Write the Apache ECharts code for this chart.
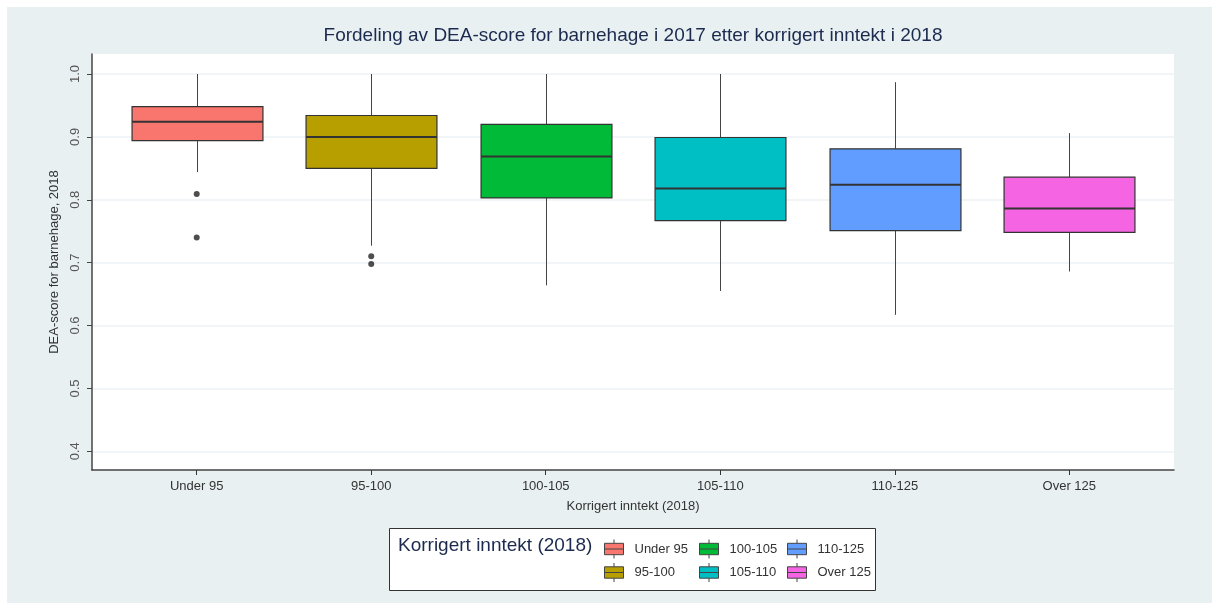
<!DOCTYPE html>
<html>
<head>
<meta charset="utf-8">
<script src="https://cdn.jsdelivr.net/npm/echarts@6/dist/echarts.min.js"></script>
<style>
  html, body { margin: 0; padding: 0; background: #fff; }
  #chart { width: 1212px; height: 603px; }
</style>
</head>
<body>
<div id="chart"></div>
<script>
const categories = ["Under 95", "95-100", "100-105", "105-110", "110-125", "Over 125"];
const lowerWhisker = [0.844, 0.727, 0.664, 0.655, 0.617, 0.686];
const q1 = [0.894, 0.850, 0.803, 0.767, 0.751, 0.748];
const median = [0.924, 0.900, 0.869, 0.818, 0.824, 0.786];
const q3 = [0.948, 0.934, 0.920, 0.899, 0.881, 0.836];
const upperWhisker = [1.0, 1.0, 1.0, 1.0, 0.987, 0.906];
// [category index, value]
const outliers = [[0, 0.809], [0, 0.740], [1, 0.710], [1, 0.698]];
const yTicks = [0.4, 0.5, 0.6, 0.7, 0.8, 0.9, 1.0];
const colors = ["#F8766D", "#B79F00", "#00BA38", "#00BFC4", "#619CFF", "#F564E3"];

const FONT = "'Liberation Sans', Arial, sans-serif";
const Y_MIN = 0.3703;
const Y_MAX = 1.0318;
const boxIcon = "path://M10,0L10,4M0,4L20,4L20,16L0,16ZM0,10L20,10M10,16L10,20";

const chart = echarts.init(document.getElementById("chart"), null, { renderer: "canvas" });

function renderBox(params, api) {
  const idx = api.value(0);
  const pLow = api.coord([idx, api.value(1)]);
  const pQ1 = api.coord([idx, api.value(2)]);
  const pMed = api.coord([idx, api.value(3)]);
  const pQ3 = api.coord([idx, api.value(4)]);
  const pHigh = api.coord([idx, api.value(5)]);
  const half = (api.size([1, 0])[0] * 0.75) / 2;
  const x = Math.round(pMed[0]) + 0.5;
  const color = api.visual("color");
  const whisker = { stroke: "#444", lineWidth: 1 };
  return {
    type: "group",
    children: [
      { type: "line", shape: { x1: x, y1: pHigh[1], x2: x, y2: pQ3[1] }, style: whisker },
      { type: "line", shape: { x1: x, y1: pQ1[1], x2: x, y2: pLow[1] }, style: whisker },
      {
        type: "rect",
        shape: { x: x - half, y: pQ3[1], width: half * 2, height: pQ1[1] - pQ3[1] },
        style: { fill: color, stroke: "#333", lineWidth: 1.2 },
      },
      {
        type: "line",
        shape: { x1: x - half, y1: pMed[1], x2: x + half, y2: pMed[1] },
        style: { stroke: "#333", lineWidth: 2 },
      },
    ],
  };
}

const boxSeries = categories.map((name, i) => ({
  name: name,
  type: "custom",
  xAxisIndex: 0,
  yAxisIndex: 0,
  itemStyle: { color: colors[i] },
  renderItem: renderBox,
  encode: { x: 0, y: [1, 2, 3, 4, 5] },
  data: [[i, lowerWhisker[i], q1[i], median[i], q3[i], upperWhisker[i]]],
  z: 3,
}));

function legendGroup(names, left) {
  return {
    data: names,
    orient: "vertical",
    left: left,
    top: 539,
    padding: 0,
    itemWidth: 19,
    itemHeight: 21,
    itemGap: 3.5,
    icon: boxIcon,
    selectedMode: false,
    itemStyle: { borderColor: "#444", borderWidth: 1 },
    textStyle: { fontFamily: FONT, fontSize: 13, color: "#333", padding: [0, 0, 0, 6] },
  };
}

chart.setOption({
  backgroundColor: "#e8f0f2",
  animation: false,
  color: colors,
  title: [
    {
      text: "Fordeling av DEA-score for barnehage i 2017 etter korrigert inntekt i 2018",
      left: 633,
      top: 26,
      padding: 0,
      textAlign: "center",
      textStyle: { fontFamily: FONT, fontSize: 19, fontWeight: "normal", color: "#1b2a4e" },
    },
    {
      text: "Korrigert inntekt (2018)",
      left: 398,
      top: 536,
      padding: 0,
      textStyle: { fontFamily: FONT, fontSize: 19, fontWeight: "normal", color: "#1b2a4e" },
    },
  ],
  graphic: [
    { type: "rect", shape: { x: 0, y: 0, width: 1212, height: 7 }, style: { fill: "#fff" }, silent: true },
    { type: "rect", shape: { x: 0, y: 0, width: 7, height: 603 }, style: { fill: "#fff" }, silent: true },
    {
      type: "rect",
      shape: { x: 389.5, y: 528.5, width: 486, height: 62 },
      style: { fill: "#fff", stroke: "#333", lineWidth: 1 },
      z: -1,
      silent: true,
    },
  ],
  legend: [
    legendGroup(["Under 95", "95-100"], 604),
    legendGroup(["100-105", "105-110"], 699),
    legendGroup(["110-125", "Over 125"], 787),
  ],
  grid: [
    { left: 109.45, right: 55.45, top: 54, bottom: 133 },
    { left: 92, right: 38, top: 54, bottom: 133, show: true, backgroundColor: "#fff", borderWidth: 0 },
  ],
  xAxis: [
    {
      type: "category",
      gridIndex: 0,
      data: categories,
      boundaryGap: true,
      axisLine: { show: false },
      axisTick: { show: true, alignWithLabel: true, length: 5, lineStyle: { color: "#333" } },
      axisLabel: { margin: 10, fontFamily: FONT, fontSize: 13, color: "#333" },
      splitLine: { show: false },
    },
    {
      type: "value",
      gridIndex: 1,
      min: 0,
      max: 1,
      name: "Korrigert inntekt (2018)",
      nameLocation: "middle",
      nameGap: 30,
      nameTextStyle: { fontFamily: FONT, fontSize: 13, color: "#333" },
      axisLine: { show: true, lineStyle: { color: "#444", width: 1.5 } },
      axisTick: { show: false },
      axisLabel: { show: false },
      splitLine: { show: false },
    },
  ],
  yAxis: [
    {
      type: "value",
      gridIndex: 0,
      min: Y_MIN,
      max: Y_MAX,
      show: false,
      splitLine: { show: false },
    },
    {
      type: "value",
      gridIndex: 1,
      min: Y_MIN,
      max: Y_MAX,
      name: "DEA-score for barnehage, 2018",
      nameLocation: "middle",
      nameGap: 26,
      nameRotate: 90,
      nameTextStyle: { fontFamily: FONT, fontSize: 13, color: "#333" },
      axisLine: { show: true, lineStyle: { color: "#444", width: 1.5 } },
      axisTick: { show: true, length: 5, customValues: yTicks, lineStyle: { color: "#444" } },
      axisLabel: {
        customValues: yTicks,
        rotate: 90,
        margin: 10,
        fontFamily: FONT,
        fontSize: 13,
        color: "#555",
        formatter: (v) => Number(v).toFixed(1),
      },
      splitLine: { show: true, lineStyle: { color: "#edf2f4", width: 1.5 } },
    },
  ],
  series: [
    ...boxSeries,
    {
      name: "outliers",
      type: "scatter",
      xAxisIndex: 0,
      yAxisIndex: 0,
      symbolSize: 6,
      itemStyle: { color: "#222" },
      data: outliers,
      z: 4,
    },
  ],
});
</script>
</body>
</html>
